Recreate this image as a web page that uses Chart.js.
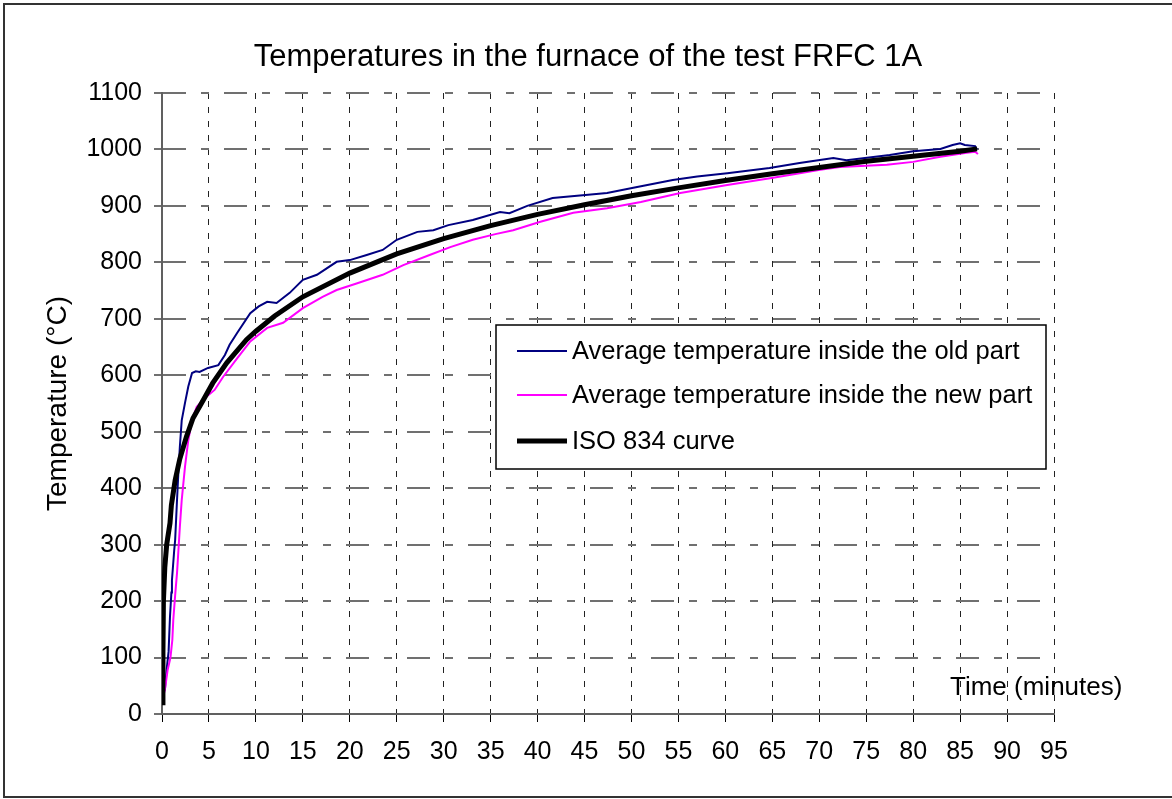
<!DOCTYPE html>
<html>
<head>
<meta charset="utf-8">
<title>Temperatures in the furnace of the test FRFC 1A</title>
<script src="https://cdn.jsdelivr.net/npm/chart.js@4/dist/chart.umd.min.js"></script>
<style>
    html, body { margin: 0; padding: 0; background: #fff; }
    #wrap { width: 1172px; height: 799px; }
</style>
</head>
<body>
<div id="wrap"><canvas id="furnaceChart" width="1172" height="799"></canvas></div>
<script>
// measured furnace temperatures, time in minutes
const oldTimes = [0.3, 0.5, 0.7, 0.85, 1.0, 1.06, 1.3, 1.4, 1.6, 1.75, 1.9, 2.1, 2.45, 2.8, 3.2, 3.6, 4.0, 4.9, 6.0, 6.7, 7.2, 8.0, 9.4, 10.3, 11.2, 12.2, 13.6, 15.0, 16.5, 18.6, 20.0, 21.8, 23.5, 25.0, 27.2, 28.9, 30.5, 33.1, 36.0, 37.0, 38.9, 41.6, 44.8, 47.4, 50.2, 54.4, 57.0, 60.2, 64.7, 67.9, 71.5, 72.9, 77.5, 80.0, 82.9, 84.2, 85.0, 85.5, 86.6, 86.8];
const oldTemps = [42, 80, 110, 172, 215, 237, 290, 308, 379, 430, 473, 520, 551, 580, 604, 607, 606, 613, 618, 636, 654, 675, 710, 722, 730, 728, 746, 769, 778, 801, 804, 813, 822, 840, 854, 857, 866, 875, 889, 887, 900, 914, 919, 923, 932, 946, 952, 958, 967, 976, 985, 981, 990, 997, 1001, 1008, 1011, 1008, 1006, 1000];

const newTimes = [0.1, 0.3, 0.6, 0.9, 1.1, 1.2, 1.4, 1.6, 1.75, 1.9, 2.1, 2.45, 2.8, 3.2, 3.7, 4.6, 5.6, 6.5, 8.0, 9.4, 11.2, 12.9, 15.0, 17.1, 18.6, 20.8, 23.5, 25.7, 28.5, 30.7, 33.1, 35.5, 37.4, 40.3, 43.8, 47.4, 51.0, 55.2, 60.2, 65.1, 70.1, 72.2, 77.2, 80.0, 82.9, 85.7, 86.6, 86.9];
const newTemps = [30, 42, 78, 100, 131, 166, 210, 250, 290, 331, 379, 438, 485, 521, 544, 560, 574, 597, 630, 660, 684, 693, 719, 739, 751, 763, 778, 795, 813, 827, 840, 850, 857, 872, 888, 896, 907, 923, 937, 950, 964, 969, 973, 978, 987, 994, 996, 992];

// ISO 834 standard fire curve
const isoTimes = [0, 0.1, 0.15, 0.3, 0.5, 0.85, 1.0, 1.4, 1.9, 2.6, 3.3, 4.4, 5.4, 6.9, 9.0, 10, 12, 15, 20, 25, 30, 35, 40, 45, 50, 55, 60, 65, 70, 75, 80, 85, 86.8];
const isoTemps = [20, 110, 200, 260, 300, 338, 370, 414, 452, 491, 524, 556, 586, 622, 663, 678, 705, 739, 781, 815, 842, 865, 885, 902, 918, 932, 945, 957, 968, 979, 988, 997, 1001];

const seriesNames = ["Average temperature inside the old part", "Average temperature inside the new part", "ISO 834 curve"];
const xMin = 0, xMax = 95, xStep = 5;
const yMin = 0, yMax = 1100, yStep = 100;

const FONT = "'Liberation Sans', Arial, sans-serif";

function toPoints(times, temps) {
    return times.map((t, i) => ({ x: t, y: temps[i] }));
}

// title, axis titles, frame and the boxed legend
const decorations = {
    id: "decorations",
    afterDraw(chart) {
        const ctx = chart.ctx;
        const area = chart.chartArea;
        ctx.save();

        ctx.strokeStyle = "#333";
        ctx.lineWidth = 2;
        ctx.strokeRect(4, 4, 1180, 793);

        ctx.fillStyle = "#000";
        ctx.textBaseline = "middle";

        ctx.font = "31px " + FONT;
        ctx.textAlign = "center";
        ctx.fillText("Temperatures in the furnace of the test FRFC 1A", 588, 57);

        ctx.font = "28px " + FONT;
        ctx.save();
        ctx.translate(58, (area.top + area.bottom) / 2);
        ctx.rotate(-Math.PI / 2);
        ctx.fillText("Temperature (°C)", 0, 0);
        ctx.restore();

        ctx.font = "26px " + FONT;
        ctx.textAlign = "left";
        ctx.fillText("Time (minutes)", 950, 688);

        // legend
        ctx.fillStyle = "#fff";
        ctx.fillRect(496, 325, 550, 144);
        ctx.strokeStyle = "#000";
        ctx.lineWidth = 1.5;
        ctx.strokeRect(496, 325, 550, 144);

        const rows = [351, 395, 441];
        ctx.font = "25.5px " + FONT;
        chart.data.datasets.forEach((ds, i) => {
            ctx.strokeStyle = ds.borderColor;
            ctx.lineWidth = ds.borderWidth;
            ctx.beginPath();
            ctx.moveTo(517, rows[i]);
            ctx.lineTo(567, rows[i]);
            ctx.stroke();
            ctx.fillStyle = "#000";
            ctx.fillText(ds.label, 572, rows[i] + 1);
        });

        ctx.restore();
    }
};

let ctx = document.getElementById("furnaceChart").getContext("2d");

new Chart(ctx, {
    type: "line",
    data: {
        datasets: [{
            label: seriesNames[0],
            data: toPoints(oldTimes, oldTemps),
            borderColor: "#000080",
            borderWidth: 2,
            order: 2
        }, {
            label: seriesNames[1],
            data: toPoints(newTimes, newTemps),
            borderColor: "#ff00ff",
            borderWidth: 2,
            order: 1
        }, {
            label: seriesNames[2],
            data: toPoints(isoTimes, isoTemps),
            borderColor: "#000000",
            borderWidth: 5,
            order: 0
        }]
    },
    options: {
        responsive: false,
        animation: false,
        devicePixelRatio: 1,
        elements: {
            point: { radius: 0 },
            line: { tension: 0, fill: false }
        },
        layout: {
            padding: { left: 62, right: 118, top: 93, bottom: 25 }
        },
        plugins: {
            legend: { display: false },
            title: { display: false },
            tooltip: { enabled: false }
        },
        scales: {
            x: {
                type: "linear",
                min: xMin,
                max: xMax,
                afterFit: s => { s.height = 60; },
                ticks: {
                    stepSize: xStep,
                    color: "#000",
                    font: { family: FONT, size: 25 },
                    padding: 15,
                    maxRotation: 0,
                    autoSkip: false,
                    callback: v => String(v)
                },
                grid: {
                    color: "#222",
                    lineWidth: 1,
                    tickLength: 8,
                    tickColor: "#000",
                    tickWidth: 1,
                    tickBorderDash: []
                },
                border: { color: "#606060", width: 2, dash: [6, 8] }
            },
            y: {
                type: "linear",
                min: yMin,
                max: yMax,
                afterFit: s => { s.width = 100; },
                ticks: {
                    stepSize: yStep,
                    color: "#000",
                    font: { family: FONT, size: 25 },
                    padding: 12,
                    callback: v => String(v)
                },
                grid: {
                    color: "#707070",
                    lineWidth: 2,
                    tickLength: 8,
                    tickColor: "#707070",
                    tickWidth: 2,
                    tickBorderDash: []
                },
                border: { color: "#606060", width: 2, dash: [23, 15, 8, 15] }
            }
        }
    },
    plugins: [decorations]
});
</script>
</body>
</html>
